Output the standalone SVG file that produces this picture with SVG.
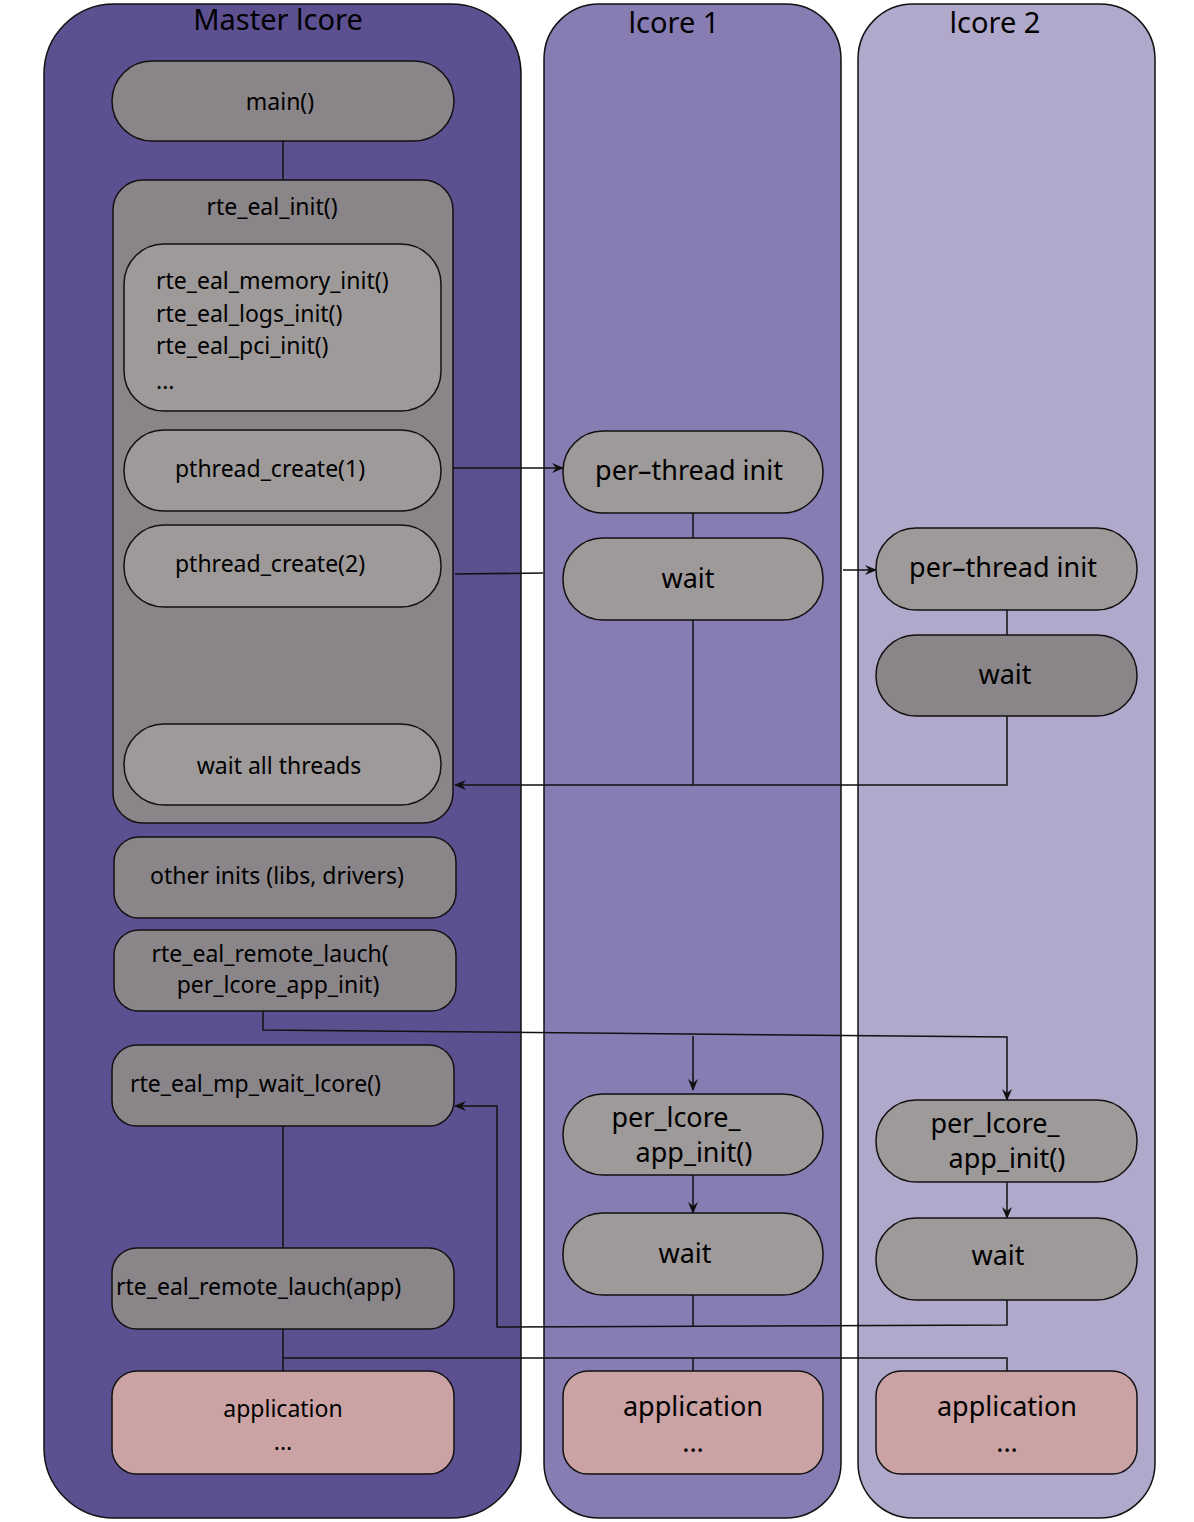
<svg xmlns="http://www.w3.org/2000/svg" width="1194" height="1522" viewBox="0 0 1194 1522">
<style>
.lane{stroke:#111;stroke-width:1.5}
.d{fill:#8a8589;stroke:#111;stroke-width:1.5}
.l{fill:#9e9a99;stroke:#111;stroke-width:1.5}
.a{fill:#cba3a4;stroke:#111;stroke-width:1.5}
text{font-family:"Noto Sans","Liberation Sans",sans-serif;fill:#000}
.t{font-size:23px;text-anchor:middle}
.tl{font-size:23px}
.b{font-size:27px;text-anchor:middle}
.h{font-size:29px;text-anchor:middle}
.c{fill:none;stroke:#111;stroke-width:1.5}
</style>
<defs><marker id="ar" markerWidth="12" markerHeight="10" refX="11" refY="5" orient="auto" markerUnits="userSpaceOnUse"><path d="M0,0 L12,5 L0,10 L4,5 Z" fill="#111"/></marker></defs>
<g id="lane-master"><rect class="lane" x="44" y="4" width="477" height="1514" rx="70" fill="#5c5090"/><text class="h" x="278" y="30">Master lcore</text></g>
<g id="lane-1"><rect class="lane" x="544" y="4" width="297" height="1514" rx="55" fill="#877db3"/><text class="h" x="674" y="33">lcore 1</text></g>
<g id="lane-2"><rect class="lane" x="858" y="4" width="297" height="1514" rx="55" fill="#b0a9cb"/><text class="h" x="995" y="33">lcore 2</text></g>
<g id="connectors">
<path class="c" d="M283,141V180"/>
<path class="c" d="M283,328V338"/>
<path class="c" d="M441,468H563" marker-end="url(#ar)"/>
<path class="c" d="M455,574L543,573"/>
<path class="c" d="M843,570H876" marker-end="url(#ar)"/>
<path class="c" d="M693,513V538M693,620V785M1007,610V635"/>
<path class="c" d="M1007,716V785H455" marker-end="url(#ar)"/>
<path class="c" d="M263,1011V1030L1007,1037V1100" marker-end="url(#ar)"/>
<path class="c" d="M693,1036V1090" marker-end="url(#ar)"/>
<path class="c" d="M693,1175V1213" marker-end="url(#ar)"/>
<path class="c" d="M1007,1182V1218" marker-end="url(#ar)"/>
<path class="c" d="M283,1126V1248M693,1295V1327"/>
<path class="c" d="M1007,1300V1325L497,1327V1106H455" marker-end="url(#ar)"/>
<path class="c" d="M283,1329V1371M283,1358H1007V1371M693,1358V1371"/>
</g>
<g id="main"><rect class="d" x="112" y="61" width="342" height="80" rx="40"/><text class="t" x="280" y="110">main()</text></g>
<g id="rte_eal_init"><rect class="d" x="113" y="180" width="340" height="643" rx="30"/><text class="t" x="272" y="215">rte_eal_init()</text></g>
<g id="inits"><rect class="l" x="124" y="244" width="317" height="167" rx="40"/>
<text class="tl" x="156" y="289">rte_eal_memory_init()</text><text class="tl" x="156" y="322">rte_eal_logs_init()</text><text class="tl" x="156" y="354">rte_eal_pci_init()</text><text class="tl" x="156" y="389">...</text></g>
<g id="pc1"><rect class="l" x="124" y="430" width="317" height="81" rx="40"/><text class="t" x="270" y="477">pthread_create(1)</text></g>
<g id="pc2"><rect class="l" x="124" y="525" width="317" height="82" rx="40"/><text class="t" x="270" y="572">pthread_create(2)</text></g>
<g id="waitall"><rect class="l" x="124" y="724" width="317" height="81" rx="40"/><text class="t" x="279" y="774">wait all threads</text></g>
<g id="other"><rect class="d" x="114" y="837" width="342" height="81" rx="25"/><text class="t" x="277" y="884">other inits (libs, drivers)</text></g>
<g id="remote1"><rect class="d" x="114" y="930" width="342" height="81" rx="25"/><text class="t" x="270" y="962">rte_eal_remote_lauch(</text><text class="t" x="278" y="993">per_lcore_app_init)</text></g>
<g id="mpwait"><rect class="d" x="112" y="1045" width="342" height="81" rx="25"/><text class="tl" x="130" y="1092">rte_eal_mp_wait_lcore()</text></g>
<g id="remote2"><rect class="d" x="112" y="1248" width="342" height="81" rx="25"/><text class="tl" x="116" y="1295">rte_eal_remote_lauch(app)</text></g>
<g id="app0"><rect class="a" x="112" y="1371" width="342" height="103" rx="25"/><text class="t" x="283" y="1417">application</text><text class="t" x="283" y="1450">...</text></g>
<g id="pti1"><rect class="l" x="563" y="431" width="260" height="82" rx="40"/><text class="b" x="689" y="480">per–thread init</text></g>
<g id="w1"><rect class="l" x="563" y="538" width="260" height="82" rx="40"/><text class="b" x="688" y="588">wait</text></g>
<g id="pai1"><rect class="l" x="563" y="1094" width="260" height="81" rx="40"/><text class="b" x="676" y="1127">per_lcore_</text><text class="b" x="694" y="1162">app_init()</text></g>
<g id="w1b"><rect class="l" x="563" y="1213" width="260" height="82" rx="40"/><text class="b" x="685" y="1263">wait</text></g>
<g id="app1"><rect class="a" x="563" y="1371" width="260" height="103" rx="25"/><text class="b" x="693" y="1416">application</text><text class="b" x="693" y="1452">...</text></g>
<g id="pti2"><rect class="l" x="876" y="528" width="261" height="82" rx="40"/><text class="b" x="1003" y="577">per–thread init</text></g>
<g id="w2"><rect class="d" x="876" y="635" width="261" height="81" rx="40"/><text class="b" x="1005" y="684">wait</text></g>
<g id="pai2"><rect class="l" x="876" y="1100" width="261" height="82" rx="40"/><text class="b" x="995" y="1133">per_lcore_</text><text class="b" x="1007" y="1168">app_init()</text></g>
<g id="w2b"><rect class="l" x="876" y="1218" width="261" height="82" rx="40"/><text class="b" x="998" y="1265">wait</text></g>
<g id="app2"><rect class="a" x="876" y="1371" width="261" height="103" rx="25"/><text class="b" x="1007" y="1416">application</text><text class="b" x="1007" y="1452">...</text></g>
</svg>
